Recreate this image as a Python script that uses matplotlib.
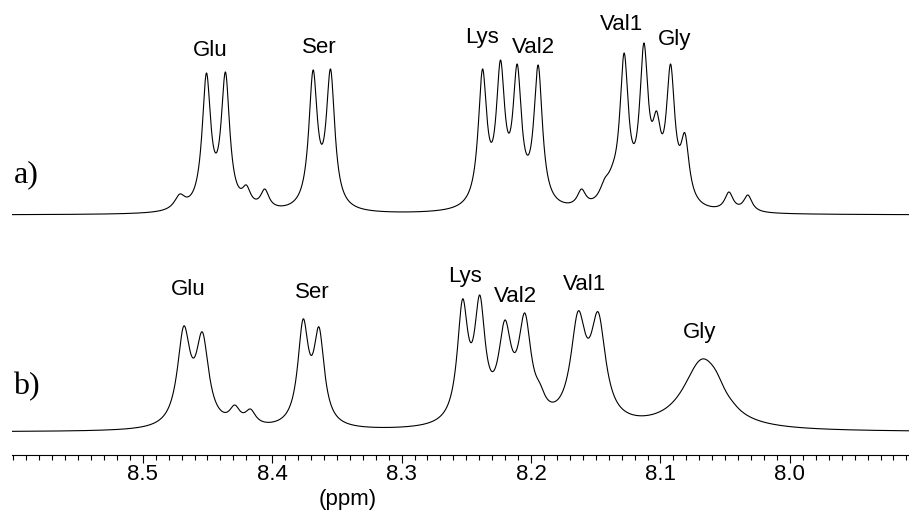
import matplotlib
matplotlib.use("Agg")
import matplotlib.pyplot as plt
from matplotlib.ticker import FixedLocator, MultipleLocator
import numpy as np

# --- spectrum a): peak centres (ppm), observed heights, half-widths (ppm) ---
A_PPM = [8.4714, 8.4508, 8.4361, 8.4199, 8.4057, 8.3684, 8.3549,
         8.2375, 8.2236, 8.2107, 8.1945, 8.1610, 8.1430, 8.1368,
         8.1281, 8.1128, 8.1030, 8.0922, 8.0811, 8.0471, 8.0325]
A_HEIGHT = [21, 142, 143, 30, 26, 145, 146,
            146, 155, 151, 150, 26, 37, 52,
            162, 172, 104, 151, 82, 23, 20]
A_HWHM = [0.005, 0.004, 0.004, 0.004, 0.004, 0.004, 0.004,
          0.004, 0.004, 0.004, 0.004, 0.004, 0.005, 0.005,
          0.004, 0.004, 0.004, 0.004, 0.004, 0.004, 0.004]

# --- spectrum b) ---
B_PPM = [8.4683, 8.4539, 8.4289, 8.4168, 8.3761, 8.3638,
         8.2529, 8.2396, 8.2202, 8.2048, 8.1932, 8.1636, 8.1481,
         8.0678, 8.0566, 8.0440]
B_HEIGHT = [106, 100, 27, 23, 113, 105,
            133, 137, 112, 119, 49, 121, 120,
            73, 60, 30]
B_HWHM = [0.006, 0.006, 0.005, 0.005, 0.005, 0.005,
          0.005, 0.005, 0.006, 0.006, 0.005, 0.007, 0.007,
          0.018, 0.008, 0.006]

RESIDUES = ["Glu", "Ser", "Lys", "Val2", "Val1", "Gly"]
PANELS = ["a)", "b)"]
TICKS = [8.5, 8.4, 8.3, 8.2, 8.1, 8.0]
TICK_LABELS = ["8.5", "8.4", "8.3", "8.2", "8.1", "8.0"]

# --- layout (figure pixels, 909x512) ---
W, H = 909, 512
AX_LEFT, AX_BASE = 12, 455
XMIN, XMAX = 8.601, 7.908
BASE_A, BASE_B = 215, 432
LAB_A = [(210, 56), (319, 53), (482, 43), (533, 53), (622, 30), (675, 45)]
LAB_B = [(188, 295), (312, 298), (465, 282), (515, 302), (585, 290), (700, 338)]
PANEL_POS = [(26, 182), (26, 394)]

SANS = ["Liberation Sans Narrow", "Liberation Sans", "DejaVu Sans"]
SERIF = ["Liberation Serif", "DejaVu Serif"]


def px_to_ppm(x):
    return XMIN - (x - AX_LEFT) / (W - AX_LEFT) * (XMIN - XMAX)


def spectrum(grid, centres, heights, hwhm):
    c = np.asarray(centres)
    w = np.asarray(hwhm)
    shape = lambda x: 1.0 / (1.0 + ((np.asarray(x)[:, None] - c) / w) ** 2)
    amps = np.linalg.solve(shape(c), np.asarray(heights, float))
    return shape(grid) @ amps


fig = plt.figure(figsize=(W / 100, H / 100), dpi=100, facecolor="white")
ax = fig.add_axes([AX_LEFT / W, (H - AX_BASE) / H, 1 - AX_LEFT / W, AX_BASE / H])
ax.set_xlim(XMIN, XMAX)
ax.set_ylim(0, AX_BASE)

grid = np.linspace(XMIN, XMAX, 4000)
ax.plot(grid, spectrum(grid, A_PPM, A_HEIGHT, A_HWHM) + (AX_BASE - BASE_A),
        color="black", linewidth=0.8)
ax.plot(grid, spectrum(grid, B_PPM, B_HEIGHT, B_HWHM) + (AX_BASE - BASE_B),
        color="black", linewidth=0.8)

for pos in (LAB_A, LAB_B):
    for name, (x, y) in zip(RESIDUES, pos):
        ax.text(px_to_ppm(x), AX_BASE - y, name, ha="center", va="baseline",
                fontsize=16, family=SANS)
for name, (x, y) in zip(PANELS, PANEL_POS):
    ax.text(px_to_ppm(x), AX_BASE - y, name, ha="center", va="baseline",
            fontsize=23, family=SERIF)

for side in ("left", "top", "right"):
    ax.spines[side].set_visible(False)
ax.spines["bottom"].set_linewidth(0.8)
ax.set_yticks([])
ax.xaxis.set_major_locator(FixedLocator(TICKS))
ax.xaxis.set_minor_locator(MultipleLocator(0.01))
ax.set_xticklabels(TICK_LABELS, fontsize=16, family=SANS)
ax.tick_params(axis="x", which="major", length=5.5, width=0.8, pad=1)
ax.tick_params(axis="x", which="minor", length=3.6, width=0.8)

fig.text(348 / W, (H - 500) / H, "(ppm)", ha="center", va="center",
         fontsize=16, family=SANS)

fig.savefig("out.png", dpi=100, facecolor="white")
